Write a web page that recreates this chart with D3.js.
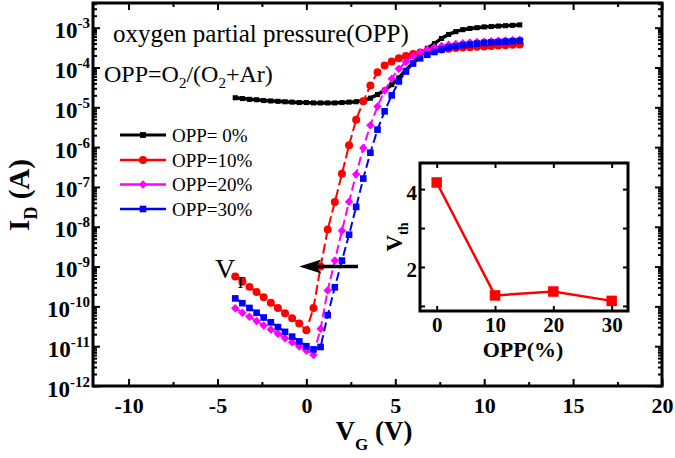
<!DOCTYPE html>
<html>
<head>
<meta charset="utf-8">
<script src="https://cdn.jsdelivr.net/npm/d3@7"></script>
<style>
  body { margin: 0; background: #fff; }
  svg { display: block; }
  text { font-family: "Liberation Serif", "Times New Roman", serif; fill: #000; }
</style>
</head>
<body>
<div id="chart"></div>
<script>
// gate voltage sweep (V)
const vg = [-4, -3.6, -3.2, -2.8, -2.4, -2, -1.6, -1.2, -0.8, -0.4, 0, 0.4, 0.8, 1.2, 1.6, 2, 2.4, 2.8, 3.2, 3.6,
            4, 4.4, 4.8, 5.2, 5.6, 6, 6.4, 6.8, 7.2, 7.6, 8, 8.4, 8.8, 9.2, 9.6, 10, 10.4, 10.8, 11.2, 11.6, 12];

// log10(ID / A)
const logId0 = [-4.76, -4.78, -4.80, -4.81, -4.83, -4.84, -4.85, -4.86, -4.87, -4.88, -4.88, -4.89, -4.89, -4.89,
                -4.89, -4.88, -4.87, -4.86, -4.83, -4.77, -4.68, -4.57, -4.43, -4.26, -4.07, -3.88, -3.70, -3.52,
                -3.40, -3.27, -3.17, -3.10, -3.05, -3.02, -3.00, -2.98, -2.97, -2.96, -2.95, -2.94, -2.93];
const logId10 = [-9.25, -9.38, -9.51, -9.64, -9.77, -9.91, -10.04, -10.17, -10.30, -10.43, -10.60, -10.04, -9.00,
                 -8.07, -7.38, -6.67, -5.95, -5.31, -4.85, -4.45, -4.12, -3.95, -3.85, -3.77, -3.71, -3.66, -3.62,
                 -3.59, -3.57, -3.55, -3.53, -3.51, -3.50, -3.49, -3.48, -3.47, -3.46, -3.45, -3.44, -3.43, -3.42];
const logId20 = [-10.05, -10.16, -10.26, -10.37, -10.48, -10.58, -10.69, -10.80, -10.90, -11.01, -11.11, -11.22,
                 -10.56, -9.60, -8.85, -8.10, -7.37, -6.68, -6.02, -5.45, -4.98, -4.58, -4.28, -4.03, -3.86, -3.72,
                 -3.62, -3.55, -3.50, -3.46, -3.43, -3.41, -3.39, -3.37, -3.36, -3.35, -3.34, -3.33, -3.32, -3.31, -3.30];
const logId30 = [-9.80, -9.92, -10.04, -10.16, -10.28, -10.40, -10.52, -10.64, -10.76, -10.88, -11.00, -11.08,
                 -11.02, -10.22, -9.52, -8.85, -8.20, -7.50, -6.79, -6.14, -5.56, -5.10, -4.70, -4.35, -4.10, -3.90,
                 -3.77, -3.68, -3.61, -3.55, -3.50, -3.47, -3.44, -3.42, -3.40, -3.38, -3.37, -3.36, -3.35, -3.34, -3.33];

const seriesNames = ['OPP= 0%', 'OPP=10%', 'OPP=20%', 'OPP=30%'];
const seriesColors = ['#000000', '#ff0000', '#ff00ff', '#0000ff'];

const xTicks = [-10, -5, 0, 5, 10, 15, 20];
const xMinorTicks = [-7.5, -2.5, 2.5, 7.5, 12.5, 17.5];
const yDecades = [-12, -11, -10, -9, -8, -7, -6, -5, -4, -3];

// inset: threshold voltage vs OPP
const oppPct = [0, 10, 20, 30];
const vth = [4.17, 1.27, 1.37, 1.13];
const insetXTicks = [0, 10, 20, 30];
const insetYTicks = [1, 2, 3, 4];
const insetYLabels = [2, 4];

const W = 675, H = 458;
const svg = d3.select('#chart').append('svg').attr('width', W).attr('height', H);

const M = { left: 93, right: 662, top: 3, bottom: 386 };
const x = d3.scaleLinear().domain([-12, 20]).range([M.left, M.right]);
const y = d3.scaleLog().domain([1e-12, Math.pow(10, -2.38)]).range([M.bottom, M.top]);

function cleanAxis(g) {
    g.select('.domain').remove();
    g.selectAll('line').attr('stroke', '#000').attr('stroke-width', 2);
}

// minor log ticks
const yMinor = [];
yDecades.forEach(k => {
    [2, 3, 4, 5, 6, 7, 8, 9].forEach(m => {
        const v = m * Math.pow(10, k);
        if (v < y.domain()[1]) yMinor.push(v);
    });
});
const yMajor = yDecades.map(k => Math.pow(10, k));

// bottom axis
svg.append('g').attr('transform', `translate(0,${M.bottom})`)
    .call(d3.axisBottom(x).tickValues(xTicks).tickSize(-7).tickPadding(11).tickFormat(d => String(d)))
    .call(cleanAxis)
    .selectAll('text').attr('font-size', 22).attr('font-weight', 'bold');
svg.append('g').attr('transform', `translate(0,${M.bottom})`)
    .call(d3.axisBottom(x).tickValues(xMinorTicks).tickSize(-4).tickFormat(''))
    .call(cleanAxis);
// top axis
svg.append('g').attr('transform', `translate(0,${M.top})`)
    .call(d3.axisTop(x).tickValues(xTicks).tickSize(-7).tickFormat(''))
    .call(cleanAxis);
svg.append('g').attr('transform', `translate(0,${M.top})`)
    .call(d3.axisTop(x).tickValues(xMinorTicks).tickSize(-4).tickFormat(''))
    .call(cleanAxis);

// left axis
svg.append('g').attr('transform', `translate(${M.left},0)`)
    .call(d3.axisLeft(y).tickValues(yMajor).tickSize(-7).tickPadding(3).tickFormat(''))
    .call(cleanAxis)
    .selectAll('text').each(function (d) {
        const t = d3.select(this);
        const k = Math.round(Math.log10(d));
        t.attr('dy', null).attr('y', 10).attr('font-size', 23).attr('font-weight', 'bold');
        t.append('tspan').text('10');
        t.append('tspan').attr('dy', -10).attr('font-size', 15).text(String(k));
    });
svg.append('g').attr('transform', `translate(${M.left},0)`)
    .call(d3.axisLeft(y).tickValues(yMinor).tickSize(-4).tickFormat(''))
    .call(cleanAxis);
// right axis
svg.append('g').attr('transform', `translate(${M.right},0)`)
    .call(d3.axisRight(y).tickValues(yMajor).tickSize(-7).tickFormat(''))
    .call(cleanAxis);
svg.append('g').attr('transform', `translate(${M.right},0)`)
    .call(d3.axisRight(y).tickValues(yMinor).tickSize(-4).tickFormat(''))
    .call(cleanAxis);

// frame
svg.append('rect')
    .attr('x', M.left).attr('y', M.top)
    .attr('width', M.right - M.left).attr('height', M.bottom - M.top)
    .attr('fill', 'none').attr('stroke', '#000').attr('stroke-width', 3);

// series
const series = [logId0, logId10, logId20, logId30].map((vals, i) => ({
    name: seriesNames[i],
    color: seriesColors[i],
    points: vg.map((v, j) => ({ v, id: Math.pow(10, vals[j]) }))
}));
const symbols = [
    { type: d3.symbolSquare, size: 26, rot: 0 },
    { type: d3.symbolCircle, size: 50, rot: 0 },
    { type: d3.symbolSquare, size: 36, rot: 45 },
    { type: d3.symbolSquare, size: 44, rot: 0 }
];
const dashes = [null, '10,4', '9,4', '9,4'];
const widths = [3.5, 2, 2, 2];

const line = d3.line().x(d => x(d.v)).y(d => y(d.id));

const plot = svg.append('g');
series.forEach((s, i) => {
    plot.append('path')
        .datum(s.points)
        .attr('d', line)
        .attr('fill', 'none')
        .attr('stroke', s.color)
        .attr('stroke-width', widths[i])
        .attr('stroke-dasharray', dashes[i]);
    plot.append('g').selectAll('path')
        .data(s.points)
        .enter()
        .append('path')
        .attr('d', d3.symbol(symbols[i].type, symbols[i].size))
        .attr('transform', d => `translate(${x(d.v)},${y(d.id)}) rotate(${symbols[i].rot})`)
        .attr('fill', s.color);
});

// legend
const legend = svg.append('g');
const legendY = [135, 160, 184.5, 209];
series.forEach((s, i) => {
    const g = legend.append('g').attr('transform', `translate(0,${legendY[i]})`);
    g.append('line').attr('x1', 120).attr('x2', 166).attr('y1', 0).attr('y2', 0)
        .attr('stroke', s.color).attr('stroke-width', i === 0 ? 3 : 2.5);
    g.append('path')
        .attr('d', d3.symbol(symbols[i].type, i === 0 ? 34 : symbols[i].size))
        .attr('transform', `translate(143,0) rotate(${symbols[i].rot})`)
        .attr('fill', s.color);
    g.append('text').attr('x', 172).attr('y', 6.5).attr('font-size', 19).text(s.name);
});

// annotations
svg.append('text').attr('x', 113).attr('y', 42).attr('font-size', 25)
    .text('oxygen partial pressure(OPP)');
const formula = svg.append('text').attr('x', 104).attr('y', 82).attr('font-size', 24);
formula.append('tspan').text('OPP=O');
formula.append('tspan').attr('font-size', 15).attr('dy', 6).text('2');
formula.append('tspan').attr('dy', -6).text('/(O');
formula.append('tspan').attr('font-size', 15).attr('dy', 6).text('2');
formula.append('tspan').attr('dy', -6).text('+Ar)');

const vt = svg.append('text').attr('x', 215).attr('y', 278).attr('font-size', 28);
vt.append('tspan').text('V');
vt.append('tspan').attr('font-size', 17).attr('dy', 10).text('T');

// arrow pointing to lower VG
const arrowFrom = [2.9, 1e-9], arrowTo = [-0.4, 1e-9];
const ax0 = x(arrowFrom[0]), ax1 = x(arrowTo[0]), ay = y(arrowTo[1]);
svg.append('line').attr('x1', ax0).attr('x2', ax1 + 16).attr('y1', ay).attr('y2', ay)
    .attr('stroke', '#000').attr('stroke-width', 3.5);
svg.append('path')
    .attr('d', `M${ax1},${ay} L${ax1 + 22},${ay - 7} L${ax1 + 17},${ay} L${ax1 + 22},${ay + 7} Z`)
    .attr('fill', '#000');

// axis titles
const xt = svg.append('text').attr('x', 374).attr('y', 440).attr('text-anchor', 'middle')
    .attr('font-size', 27).attr('font-weight', 'bold');
xt.append('tspan').text('V');
xt.append('tspan').attr('font-size', 17).attr('dy', 10).text('G');
xt.append('tspan').attr('dy', -10).text(' (V)');

const yt = svg.append('text').attr('transform', 'translate(29,195) rotate(-90)')
    .attr('text-anchor', 'middle').attr('font-size', 29).attr('font-weight', 'bold');
yt.append('tspan').text('I');
yt.append('tspan').attr('font-size', 18).attr('dy', 8).text('D');
yt.append('tspan').attr('dy', -8).text(' (A)');

// ---------- inset ----------
const I = { left: 420, right: 628, top: 163, bottom: 311 };
const xi = d3.scaleLinear().domain([-2.86, 32.8]).range([I.left, I.right]);
const yi = d3.scaleLinear().domain([0.87, 4.67]).range([I.bottom, I.top]);

svg.append('rect').attr('x', I.left).attr('y', I.top)
    .attr('width', I.right - I.left).attr('height', I.bottom - I.top)
    .attr('fill', '#fff');

svg.append('g').attr('transform', `translate(0,${I.bottom})`)
    .call(d3.axisBottom(xi).tickValues(insetXTicks).tickSize(-5).tickPadding(6).tickFormat(d => String(d)))
    .call(cleanAxis)
    .selectAll('text').attr('font-size', 21).attr('font-weight', 'bold');
svg.append('g').attr('transform', `translate(0,${I.top})`)
    .call(d3.axisTop(xi).tickValues(insetXTicks).tickSize(-5).tickFormat(''))
    .call(cleanAxis);
svg.append('g').attr('transform', `translate(${I.left},0)`)
    .call(d3.axisLeft(yi).tickValues(insetYTicks).tickSize(-5).tickPadding(3)
        .tickFormat(d => insetYLabels.includes(d) ? String(d) : ''))
    .call(cleanAxis)
    .selectAll('text').attr('dy', null).attr('y', 10).attr('font-size', 21).attr('font-weight', 'bold');
svg.append('g').attr('transform', `translate(${I.right},0)`)
    .call(d3.axisRight(yi).tickValues(insetYTicks).tickSize(-5).tickFormat(''))
    .call(cleanAxis);

svg.append('rect').attr('x', I.left).attr('y', I.top)
    .attr('width', I.right - I.left).attr('height', I.bottom - I.top)
    .attr('fill', 'none').attr('stroke', '#000').attr('stroke-width', 3);

const inset = oppPct.map((o, i) => ({ o, v: vth[i] }));
svg.append('path').datum(inset)
    .attr('d', d3.line().x(d => xi(d.o)).y(d => yi(d.v)))
    .attr('fill', 'none').attr('stroke', '#ff0000').attr('stroke-width', 2.5);
svg.append('g').selectAll('path').data(inset).enter().append('path')
    .attr('d', d3.symbol(d3.symbolSquare, 110))
    .attr('transform', d => `translate(${xi(d.o)},${yi(d.v)})`)
    .attr('fill', '#ff0000');

svg.append('text').attr('x', 523).attr('y', 357).attr('text-anchor', 'middle')
    .attr('font-size', 22).attr('font-weight', 'bold').text('OPP(%)');
const vth_t = svg.append('text').attr('transform', 'translate(402,237) rotate(-90)')
    .attr('text-anchor', 'middle').attr('font-size', 23).attr('font-weight', 'bold');
vth_t.append('tspan').text('V');
vth_t.append('tspan').attr('font-size', 14).attr('dy', 6).text('th');
</script>
</body>
</html>
